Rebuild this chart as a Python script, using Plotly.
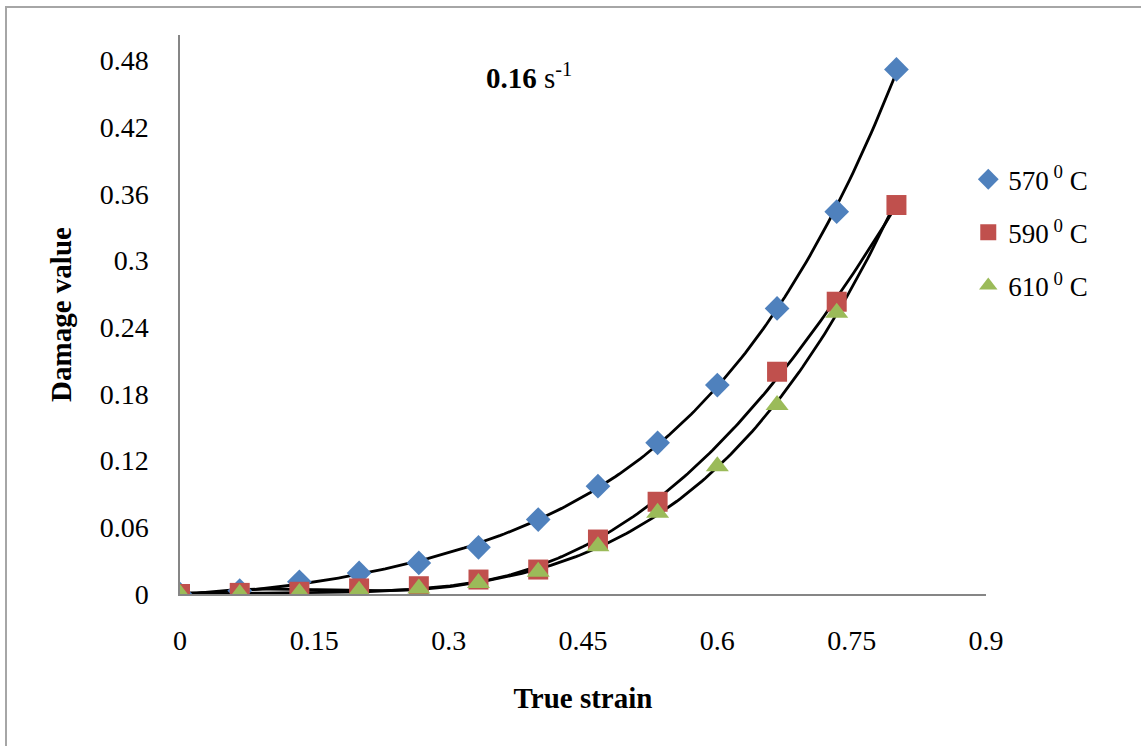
import numpy as np
import plotly.graph_objects as go

# True strain sampling points
strain = [0.0, 0.0667, 0.1333, 0.2, 0.2667, 0.3333, 0.4, 0.4667, 0.5333, 0.6, 0.6667, 0.7333, 0.8]

# Damage values at 0.16 s^-1 for each temperature
damage_570 = [0.0, 0.003, 0.011, 0.019, 0.028, 0.042, 0.067, 0.097, 0.136, 0.188, 0.257, 0.344, 0.472]
damage_590 = [0.0, 0.001, 0.002, 0.005, 0.007, 0.013, 0.022, 0.049, 0.083, None, 0.200, 0.263, 0.350]
damage_610 = [0.0, 0.0, 0.001, 0.003, 0.005, 0.010, 0.020, 0.043, 0.073, 0.115, 0.170, 0.253, None]

series_names = ["570<sup> 0</sup> C", "590<sup> 0</sup> C", "610<sup> 0</sup> C"]

x_ticks = [0, 0.15, 0.3, 0.45, 0.6, 0.75, 0.9]
x_tick_text = ["0", "0.15", "0.3", "0.45", "0.6", "0.75", "0.9"]
y_ticks = [0, 0.06, 0.12, 0.18, 0.24, 0.3, 0.36, 0.42, 0.48]
y_tick_text = ["0", "0.06", "0.12", "0.18", "0.24", "0.3", "0.36", "0.42", "0.48"]

colors = ["#4F81BD", "#C0504D", "#9BBB59"]
symbols = ["diamond", "square", "triangle-up"]
sizes = [19, 20, 20]

FONT = "Liberation Serif, Times New Roman, serif"

fig = go.Figure()

all_series = [damage_570, damage_590, damage_610]

# polynomial trend lines through each temperature's measured points
x_fit = np.linspace(0, 0.8, 200)
for vals in all_series:
    xs = np.array([s for s, v in zip(strain, vals) if v is not None])
    ys = np.array([v for v in vals if v is not None])
    coef = np.polyfit(xs, ys, 4)
    fig.add_trace(go.Scatter(
        x=x_fit, y=np.polyval(coef, x_fit), mode="lines",
        line=dict(color="black", width=2.8), showlegend=False, hoverinfo="skip",
    ))

for i, vals in enumerate(all_series):
    fig.add_trace(go.Scatter(
        x=strain, y=vals, mode="markers", name=series_names[i],
        legendgroup=str(i),
        marker=dict(symbol=symbols[i], size=sizes[i], color=colors[i], line=dict(width=0)),
    ))

fig.update_layout(
    width=1141, height=746,
    margin=dict(l=180, r=155, t=35, b=152),
    paper_bgcolor="white", plot_bgcolor="white",
    font=dict(family=FONT, size=28, color="black"),
    showlegend=True,
    legend=dict(
        x=0.978, y=0.785, xanchor="left", yanchor="top",
        font=dict(family=FONT, size=27, color="black"),
        tracegroupgap=15, itemsizing="trace", itemwidth=30,
        bgcolor="rgba(0,0,0,0)",
    ),
    xaxis=dict(
        range=[0, 0.9], tickvals=x_ticks, ticktext=x_tick_text,
        showgrid=False, zeroline=False, showline=True, linecolor="#868686", linewidth=1.5,
        ticks="", ticklabelstandoff=21,
        tickfont=dict(family=FONT, size=28),
        title=dict(text="<b>True strain</b>", font=dict(family=FONT, size=29), standoff=32),
    ),
    yaxis=dict(
        range=[0, 0.503], tickvals=y_ticks, ticktext=y_tick_text,
        showgrid=False, zeroline=False, showline=True, linecolor="#868686", linewidth=1.5,
        ticks="", ticklabelstandoff=24,
        tickfont=dict(family=FONT, size=28),
        title=dict(text="<b>Damage value</b>", font=dict(family=FONT, size=29), standoff=20),
    ),
    shapes=[dict(
        type="rect", xref="paper", yref="paper",
        x0=(6 - 180) / 806, x1=(1160 - 180) / 806,
        y0=(594 - 760) / 559, y1=(594 - 7) / 559,
        line=dict(color="#A6A6A6", width=2), fillcolor="rgba(0,0,0,0)", layer="below",
    )],
    annotations=[dict(
        text="<b>0.16</b> s<sup>-1</sup>", x=0.39, y=0.466, xref="x", yref="y",
        showarrow=False, font=dict(family=FONT, size=29, color="black"),
    )],
)

fig.write_html("out.html")
